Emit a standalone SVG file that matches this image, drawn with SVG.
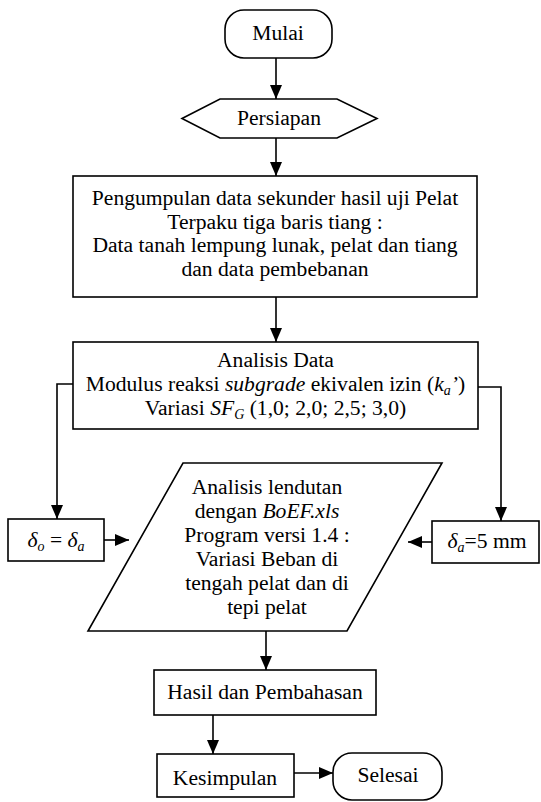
<svg xmlns="http://www.w3.org/2000/svg" width="541" height="802" viewBox="0 0 541 802">
<defs>
<marker id="ah" viewBox="0 0 14 12" refX="14" refY="6" markerWidth="14" markerHeight="12" markerUnits="userSpaceOnUse" orient="auto">
<path d="M0,0 L14,6 L0,12 Z" fill="#000"/>
</marker>
<style>
.s{fill:#fff;stroke:#000;stroke-width:1.6}
.t{font-family:"Liberation Serif","Times New Roman",serif;font-size:21.6px;fill:#000;text-anchor:middle}
.i{font-style:italic}
.sub{font-size:14px}
.c{fill:none;stroke:#000;stroke-width:1.6;marker-end:url(#ah)}
</style>
</defs>
<rect width="541" height="802" fill="#fff"/>
<g id="connectors">
<line class="c" x1="276" y1="58" x2="276" y2="99"/>
<line class="c" x1="276" y1="138" x2="276" y2="176"/>
<line class="c" x1="276" y1="297" x2="276" y2="342"/>
<polyline class="c" points="73,384 57,384 57,519"/>
<polyline class="c" points="478,387 501,387 501,521"/>
<line class="c" x1="104" y1="540" x2="129" y2="540"/>
<line class="c" x1="432" y1="542" x2="408" y2="542"/>
<line class="c" x1="266" y1="631" x2="266" y2="670"/>
<line class="c" x1="213" y1="715" x2="213" y2="754"/>
<line class="c" x1="294" y1="773" x2="333" y2="773"/>
</g>
<g id="mulai">
<rect class="s" x="225" y="10" width="107" height="48" rx="19" ry="19"/>
<text class="t" x="278" y="40">Mulai</text>
</g>
<g id="persiapan">
<polygon class="s" points="182,118.5 220,99 337,99 377,118.5 337,138 220,138"/>
<text class="t" x="279" y="125">Persiapan</text>
</g>
<g id="pengumpulan">
<rect class="s" x="73" y="176" width="404" height="121"/>
<text class="t" x="275" y="205">Pengumpulan data sekunder hasil uji Pelat</text>
<text class="t" x="275" y="228.5">Terpaku tiga baris tiang :</text>
<text class="t" x="275" y="252">Data tanah lempung lunak, pelat dan tiang</text>
<text class="t" x="275" y="275.5">dan data pembebanan</text>
</g>
<g id="analisis-data">
<rect class="s" x="73" y="342" width="405" height="87"/>
<text class="t" x="275.5" y="367">Analisis Data</text>
<text class="t" x="275.5" y="391">Modulus reaksi <tspan class="i">subgrade</tspan> ekivalen izin (<tspan class="i">k<tspan class="sub" dy="4">a</tspan><tspan dy="-4">’</tspan></tspan>)</text>
<text class="t" x="275.5" y="415">Variasi <tspan class="i">SF<tspan class="sub" dy="4">G</tspan></tspan><tspan dy="-4"> (1,0; 2,0; 2,5; 3,0)</tspan></text>
</g>
<g id="delta-o">
<rect class="s" x="8" y="519" width="96" height="42"/>
<text class="t i" x="56" y="547">δ<tspan class="sub" dy="4">o</tspan><tspan dy="-4" font-style="normal"> = </tspan>δ<tspan class="sub" dy="4">a</tspan></text>
</g>
<g id="delta-a">
<rect class="s" x="432" y="521" width="107" height="42"/>
<text class="t" x="487" y="548"><tspan class="i">δ<tspan class="sub" dy="4">a</tspan></tspan><tspan dy="-4">=5 mm</tspan></text>
</g>
<g id="analisis-lendutan">
<polygon class="s" points="183,463 442,463 347,631 88,631"/>
<text class="t" x="267" y="494">Analisis lendutan</text>
<text class="t" x="267" y="518">dengan <tspan class="i">BoEF.xls</tspan></text>
<text class="t" x="267" y="542">Program versi 1.4 :</text>
<text class="t" x="267" y="566">Variasi Beban di</text>
<text class="t" x="267" y="590">tengah pelat dan di</text>
<text class="t" x="267" y="614">tepi pelat</text>
</g>
<g id="hasil">
<rect class="s" x="154" y="670" width="222" height="45"/>
<text class="t" x="265" y="699">Hasil dan Pembahasan</text>
</g>
<g id="kesimpulan">
<rect class="s" x="157" y="754" width="137" height="43"/>
<text class="t" x="225" y="785">Kesimpulan</text>
</g>
<g id="selesai">
<rect class="s" x="333" y="753" width="109" height="47" rx="19" ry="19"/>
<text class="t" x="388" y="782">Selesai</text>
</g>
</svg>
